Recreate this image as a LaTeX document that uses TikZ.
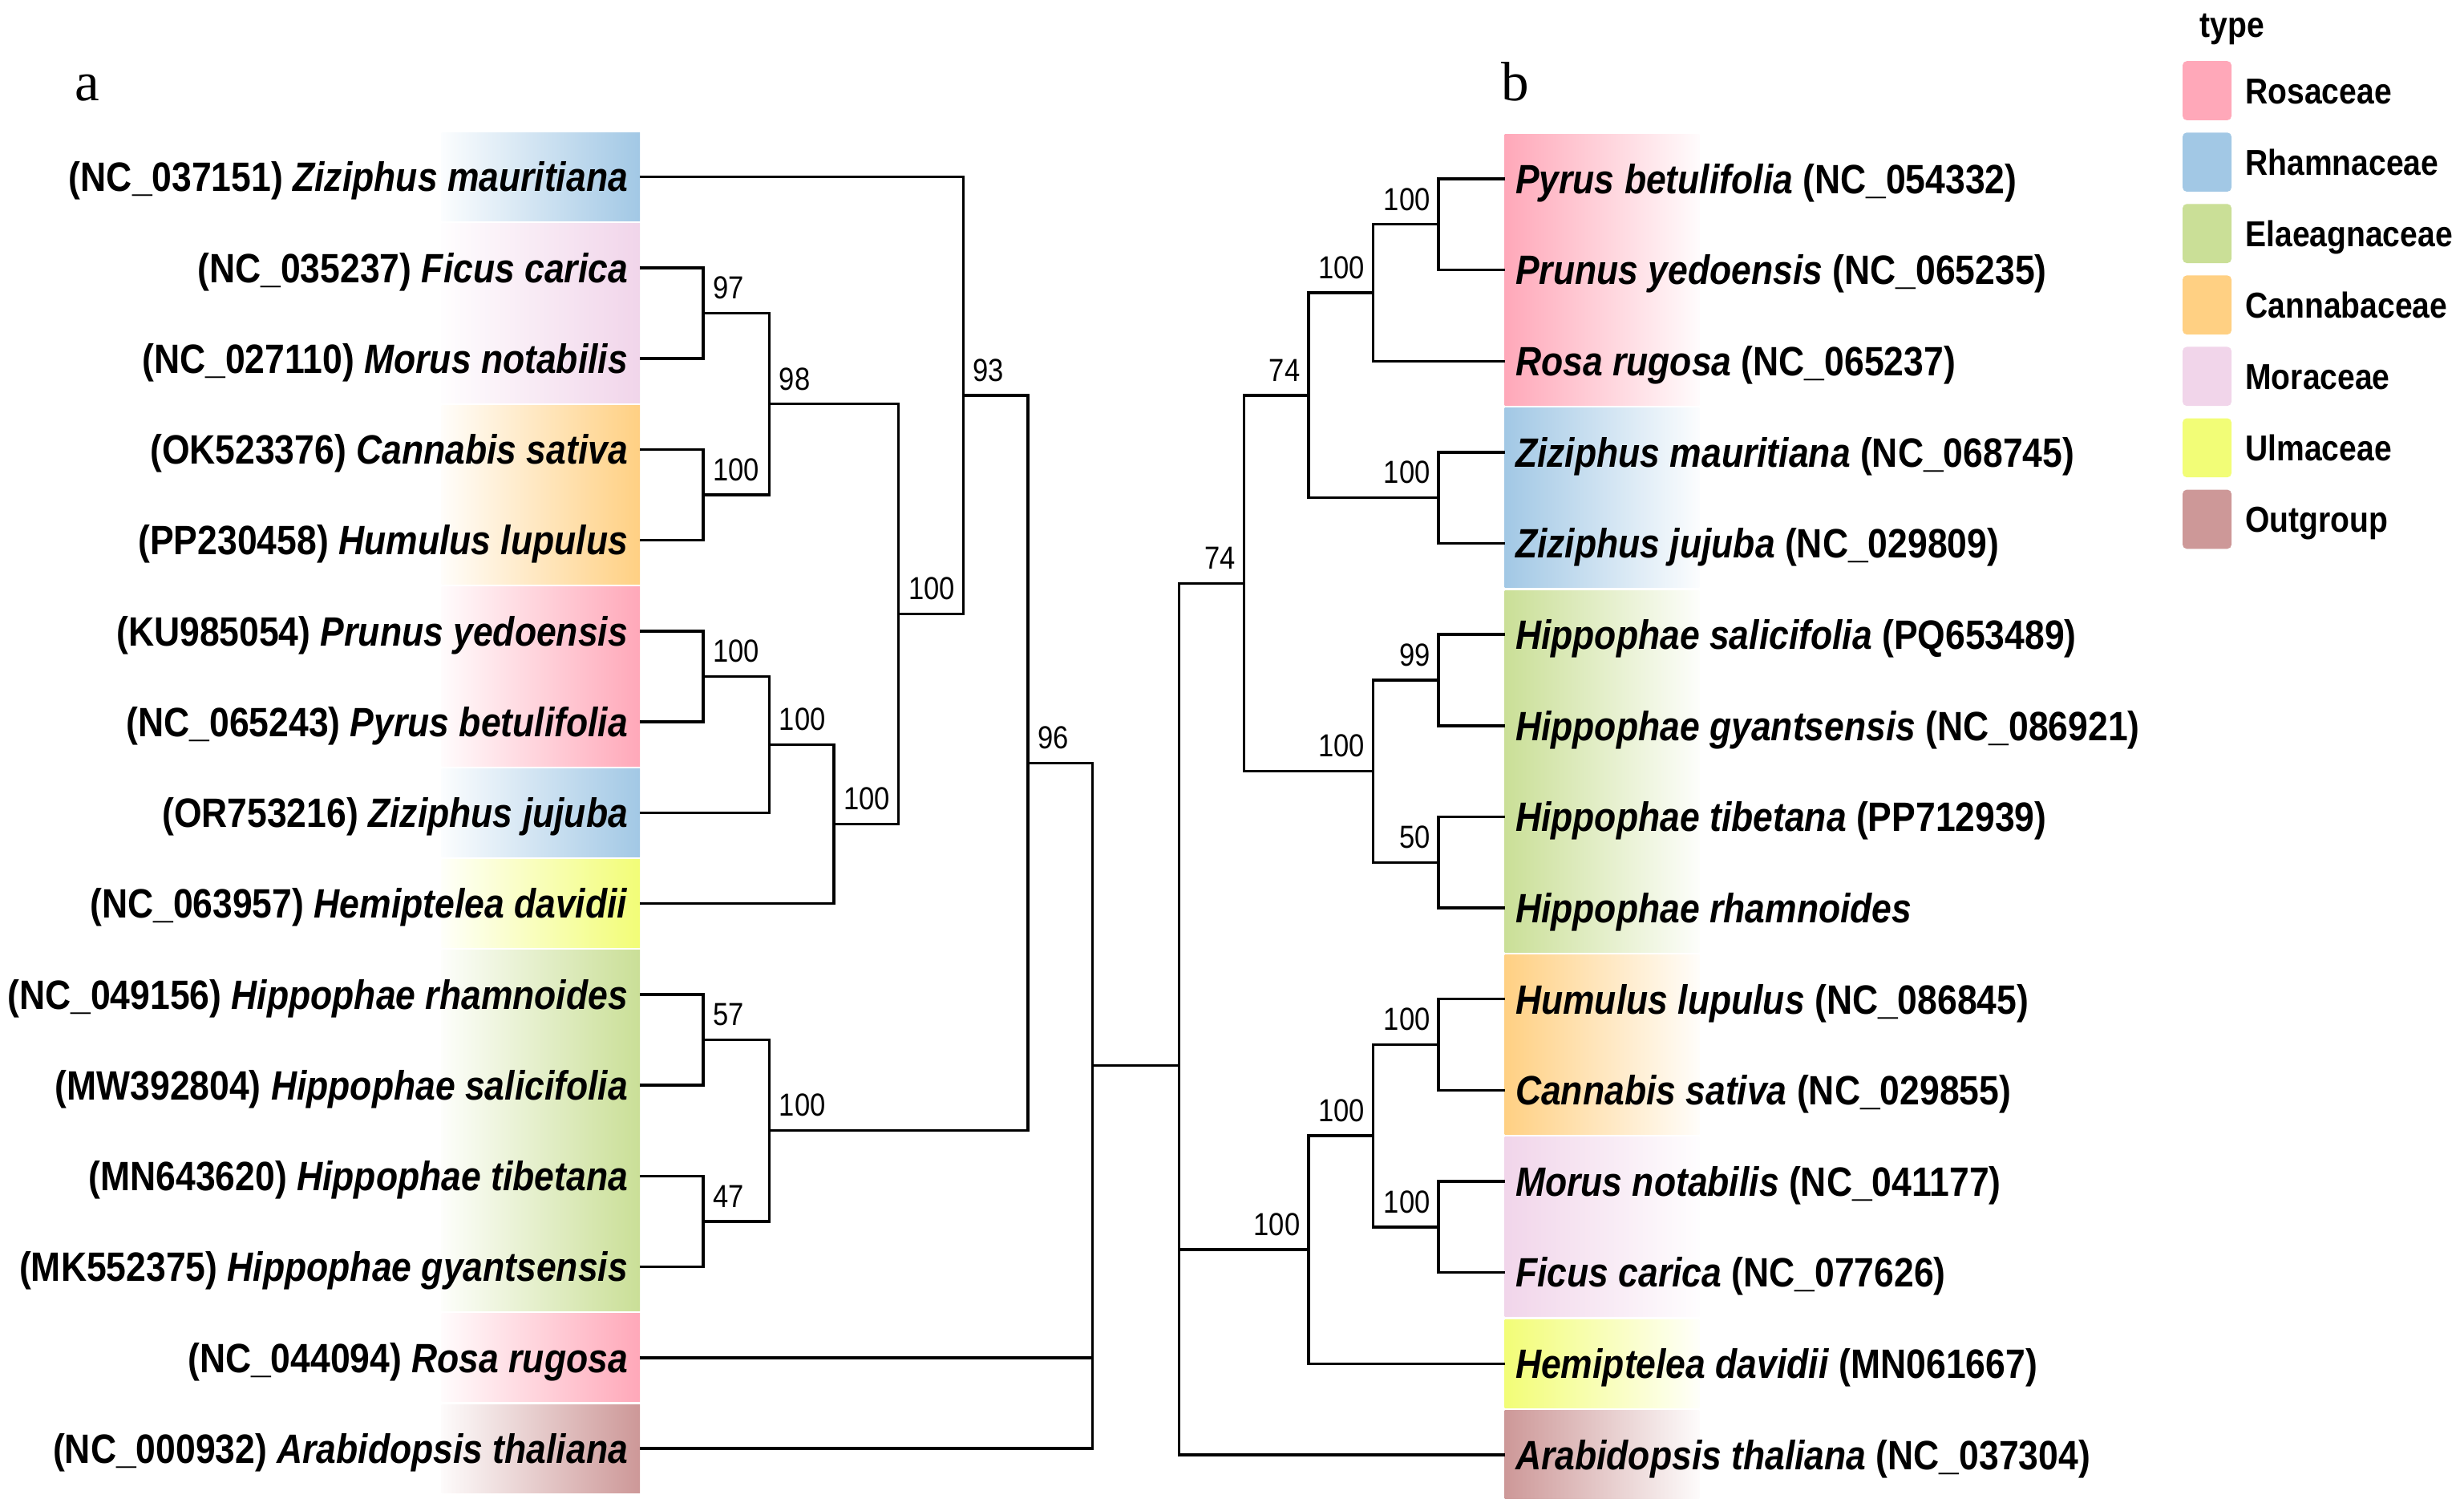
\documentclass[tikz,border=0pt]{standalone}
\usepackage{fontspec}
\setmainfont{Liberation Sans}[FakeStretch=0.87]
\newfontfamily\panelfont{Liberation Serif}
\definecolor{rosac}{HTML}{FFA8B9}
\definecolor{rhamn}{HTML}{A2C8E5}
\definecolor{elaea}{HTML}{CADF97}
\definecolor{canna}{HTML}{FFD083}
\definecolor{morac}{HTML}{F1D5EA}
\definecolor{ulmac}{HTML}{F2FD77}
\definecolor{outgr}{HTML}{CD9898}
\begin{document}
\begin{tikzpicture}[x=0.02cm, y=-0.02cm,
  branch/.style={line width=1pt},
  taxon/.style={font=\fontsize{14.8}{17}\selectfont\bfseries, inner ysep=0pt, text height=10.6pt, text depth=0pt},
  boot/.style={font=\fontsize{11.5}{13}\selectfont, inner sep=0pt},
  legbox/.style={minimum width=0.62cm, minimum height=0.75cm, inner sep=0pt, rounded corners=1.5pt},
  legtext/.style={font=\fontsize{13}{15}\selectfont\bfseries, inner sep=0pt, text height=9.3pt, text depth=0pt},
  panel/.style={font=\panelfont\fontsize{20}{24}\selectfont, inner sep=0pt, anchor=base}]
\useasboundingbox (0,0) rectangle (1563,955.7);

\foreach \c/\f/\l in {rhamn/1/1, morac/2/3, canna/4/5, rosac/6/7, rhamn/8/8, ulmac/9/9, elaea/10/13, rosac/14/14, outgr/15/15}
  \shade [left color=\c!4, right color=\c] (280, {112.2+57.6*(\f-1)-28}) rectangle (406, {112.2+57.6*(\l-1)+28});

\foreach \c/\f/\l in {rosac/1/3, rhamn/4/5, elaea/6/9, canna/10/11, morac/12/13, ulmac/14/14, outgr/15/15}
  \shade [left color=\c, right color=\c!4] (954.5, {113.4+57.8*(\f-1)-28}) rectangle (1078, {113.4+57.8*(\l-1)+28});

\node [panel] (a-title) at (55.6, 64) {a};
\node [panel] (b-title) at (961, 63.6) {b};

\foreach \acc/\sp [count=\i] in {NC\_037151/Ziziphus mauritiana, NC\_035237/Ficus carica, NC\_027110/Morus notabilis, OK523376/Cannabis sativa, PP230458/Humulus lupulus, KU985054/Prunus yedoensis, NC\_065243/Pyrus betulifolia, OR753216/Ziziphus jujuba, NC\_063957/Hemiptelea davidii, NC\_049156/Hippophae rhamnoides, MW392804/Hippophae salicifolia, MN643620/Hippophae tibetana, MK552375/Hippophae gyantsensis, NC\_044094/Rosa rugosa, NC\_000932/Arabidopsis thaliana}
  \node [taxon, anchor=east, inner xsep=0.148cm] (a-leaf-\i) at (406, {112.2+57.6*(\i-1)}) {(\acc) \textit{\sp}};

\foreach \t [count=\i] in {{\textit{Pyrus betulifolia} (NC\_054332)}, {\textit{Prunus yedoensis} (NC\_065235)}, {\textit{Rosa rugosa} (NC\_065237)}, {\textit{Ziziphus mauritiana} (NC\_068745)}, {\textit{Ziziphus jujuba} (NC\_029809)}, {\textit{Hippophae salicifolia} (PQ653489)}, {\textit{Hippophae gyantsensis} (NC\_086921)}, {\textit{Hippophae tibetana} (PP712939)}, {\textit{Hippophae rhamnoides}}, {\textit{Humulus lupulus} (NC\_086845)}, {\textit{Cannabis sativa} (NC\_029855)}, {\textit{Morus notabilis} (NC\_041177)}, {\textit{Ficus carica} (NC\_077626)}, {\textit{Hemiptelea davidii} (MN061667)}, {\textit{Arabidopsis thaliana} (NC\_037304)}}
  \node [taxon, anchor=west, inner xsep=0.13cm] (b-leaf-\i) at (954.5, {113.4+57.8*(\i-1)}) {\t};

\foreach \n/\x/\y/\v in {n1/446/198.6/97, n2/446/313.8/100, n3/488/256.2/98, n4/446/429/100, n5/488/472.2/100, n6/529/522.6/100, n7/570/389.4/100, n8/611/250.8/93, n9/446/659.4/57, n10/446/774.6/47, n11/488/717/100, n12/652/483.9/96} {
  \coordinate (a-\n) at (\x,\y);
  \node [boot, anchor=base west] (a-\n-boot) at ([shift={(6,-9)}]a-\n) {\v};
}
\coordinate (a-root) at (693, 675.6);

\foreach \n/\x/\y/\v in {n1/912.5/142.3/100, n2/871/185.65/100, n3/912.5/315.7/100, n4/830/250.7/74, n5/912.5/431.3/99, n6/912.5/546.9/50, n7/871/489.1/100, n8/789/369.9/74, n9/912.5/662.5/100, n10/912.5/778.1/100, n11/871/720.3/100, n12/830/792.5/100} {
  \coordinate (b-\n) at (\x,\y);
  \node [boot, anchor=base east] (b-\n-boot) at ([shift={(-5,-9)}]b-\n) {\v};
}
\coordinate (b-root) at (748, 675.6);

\foreach \c/\p in {leaf-1.east/n8, leaf-2.east/n1, leaf-3.east/n1, leaf-4.east/n2, leaf-5.east/n2, n1/n3, n2/n3, leaf-6.east/n4, leaf-7.east/n4, n4/n5, leaf-8.east/n5, n5/n6, leaf-9.east/n6, n3/n7, n6/n7, n7/n8, leaf-10.east/n9, leaf-11.east/n9, leaf-12.east/n10, leaf-13.east/n10, n9/n11, n10/n11, n8/n12, n11/n12, n12/root, leaf-14.east/root, leaf-15.east/root}
  \draw [branch] (a-\c) -| (a-\p);

\foreach \p/\c in {n1/leaf-1.west, n1/leaf-2.west, n2/n1, n2/leaf-3.west, n3/leaf-4.west, n3/leaf-5.west, n4/n2, n4/n3, n5/leaf-6.west, n5/leaf-7.west, n6/leaf-8.west, n6/leaf-9.west, n7/n5, n7/n6, n8/n4, n8/n7, n9/leaf-10.west, n9/leaf-11.west, n10/leaf-12.west, n10/leaf-13.west, n11/n9, n11/n10, n12/n11, n12/leaf-14.west, root/n8, root/n12, root/leaf-15.west}
  \draw [branch] (b-\p) |- (b-\c);

\draw [branch] (a-root) -- (b-root);

\node [legtext, anchor=base west] (key-title) at (1395, 23.7) {type};
\foreach \c/\t [count=\k] in {rosac/Rosaceae, rhamn/Rhamnaceae, elaea/Elaeagnaceae, canna/Cannabaceae, morac/Moraceae, ulmac/Ulmaceae, outgr/Outgroup} {
  \node [legbox, fill=\c] (key-\k) at (1400, {57.5+45.3*(\k-1)}) {};
  \node [legtext, anchor=west] (key-text-\k) at (1424, {57.5+45.3*(\k-1)}) {\t};
}
\end{tikzpicture}
\end{document}
